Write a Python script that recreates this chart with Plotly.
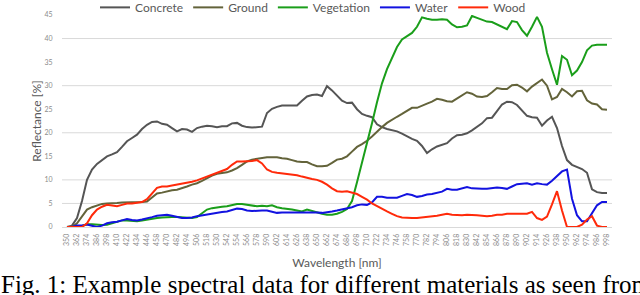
import plotly.graph_objects as go

# Wavelength samples (nm), 6 nm step
wavelength = list(range(350, 999, 6))
# Category tick labels every 12 nm
tick_nm = list(range(350, 999, 12))
tick_labels = [str(v) for v in tick_nm]
y_ticks = [0, 5, 10, 15, 20, 25, 30, 35, 40, 45]
grid_levels = [5, 10, 20, 30, 40]

concrete = [0, 0.3, 1.9, 5.5, 10.0, 12.2, 13.4, 14.3, 15.0, 15.4,
            15.9, 17.0, 18.2, 18.9, 19.6, 20.8, 21.7, 22.3, 22.4, 21.9,
            21.7, 21.0, 20.3, 20.8, 20.7, 20.2, 21.0, 21.3, 21.5, 21.4,
            21.2, 21.4, 21.4, 22.0, 22.1, 21.5, 21.2, 21.1, 21.2, 21.3,
            24.2, 25.1, 25.5, 25.8, 25.8, 25.8, 25.8, 26.8, 27.7, 28.0,
            28.1, 27.8, 29.9, 29.0, 28.0, 26.8, 26.3, 26.4, 25.0, 24.0,
            23.6, 23.3, 21.8, 21.2, 20.8, 20.5, 20.3, 19.8, 19.2, 18.7,
            18.3, 17.2, 15.7, 16.5, 17.1, 17.5, 17.8, 18.8, 19.5, 19.6,
            19.9, 20.5, 21.2, 22.0, 23.1, 23.2, 24.6, 26.0, 26.6, 26.5,
            25.9, 24.8, 23.6, 23.3, 23.2, 21.5, 22.6, 23.4, 21.0, 17.2,
            14.2, 13.2, 12.8, 12.3, 11.5, 8.0, 7.4, 7.2, 7.2]

ground = [0, 0, 0.8, 2.2, 3.7, 4.2, 4.6, 4.9, 5.0, 5.0,
          5.1, 5.2, 5.2, 5.2, 5.2, 5.3, 5.4, 6.3, 7.1, 7.3,
          7.6, 7.8, 7.9, 8.2, 8.6, 9.0, 9.3, 9.8, 10.4, 10.9,
          11.3, 11.5, 11.6, 12.0, 12.5, 13.2, 13.9, 14.3, 14.5, 14.7,
          14.8, 14.8, 14.8, 14.6, 14.5, 14.2, 13.9, 13.8, 13.8, 13.3,
          12.9, 12.9, 13.0, 13.6, 14.3, 14.5, 15.0, 16.0, 17.0, 17.6,
          18.3, 19.2, 20.3, 21.2, 22.1, 22.8, 23.4, 24.0, 24.6, 25.3,
          25.3, 25.8, 26.2, 26.6, 27.2, 27.0, 26.7, 26.6, 27.3, 27.9,
          28.6, 28.3, 27.7, 27.6, 27.8, 28.6, 29.5, 29.3, 29.3, 30.1,
          30.2, 29.6, 28.8, 29.8, 30.6, 31.3, 30.0, 27.1, 27.6, 29.3,
          28.6, 27.7, 28.8, 28.9, 26.9, 26.2, 26.0, 25.0, 24.9]

vegetation = [0, 0, 0, 0.2, 0.6, 0.6, 0.5, 0.4, 0.5, 0.8,
              1.2, 1.4, 1.4, 1.3, 1.2, 1.4, 1.6, 1.8, 1.9, 2.0,
              2.1, 2.1, 2.1, 2.0, 1.9, 1.9, 2.1, 2.9, 3.7, 4.0,
              4.2, 4.3, 4.4, 4.7, 4.9, 4.9, 4.7, 4.6, 4.4, 4.5,
              4.4, 4.6, 4.2, 4.0, 3.9, 3.7, 3.5, 3.3, 3.7, 3.4,
              3.0, 2.8, 2.6, 2.6, 2.8, 3.2, 3.8, 5.5, 9.5, 13.5,
              17.5, 22.0, 26.5, 30.5, 33.5, 36.0, 38.2, 39.8, 40.5, 41.2,
              42.5, 44.5, 44.2, 44.0, 44.0, 44.1, 44.0, 43.0, 42.4, 42.5,
              42.8, 44.8, 44.4, 44.0, 43.6, 43.5, 43.0, 42.4, 42.0, 43.7,
              43.5, 41.8, 40.6, 42.5, 44.6, 42.5, 37.0, 33.5, 30.2, 36.3,
              35.5, 32.2, 33.2, 35.0, 37.5, 38.5, 38.7, 38.7, 38.7]

water = [0, 0, 0.3, 0.3, 0.5, 0.3, 0, 0.3, 0.8, 1.0,
         1.1, 1.4, 1.7, 1.5, 1.4, 1.6, 1.8, 2.1, 2.4, 2.5,
         2.6, 2.4, 2.1, 1.9, 1.9, 2.0, 2.3, 2.5, 2.6, 2.8,
         3.1, 3.2, 3.3, 3.6, 3.9, 3.8, 3.5, 3.4, 3.5, 3.5,
         3.5, 3.3, 3.0, 3.1, 3.1, 3.1, 3.1, 3.2, 3.2, 3.1,
         3.1, 3.0, 3.1, 3.3, 3.5, 3.7, 3.9, 4.2, 4.6, 4.8,
         4.7, 5.2, 6.4, 6.4, 6.2, 6.2, 6.2, 6.6, 7.0, 6.8,
         6.4, 6.6, 6.9, 7.0, 7.2, 7.5, 8.1, 7.9, 7.9, 8.2,
         8.5, 8.2, 8.1, 8.1, 8.1, 8.3, 8.4, 8.3, 8.1, 8.6,
         9.1, 9.2, 9.3, 9.0, 9.3, 9.1, 9.0, 9.8, 10.8, 11.8,
         12.2, 6.0, 2.5, 1.2, 1.2, 2.8, 4.6, 5.3, 5.3]

wood = [0, 0, 0, 0, 0.8, 2.5, 3.7, 4.3, 4.7, 4.6,
        4.4, 4.7, 5.0, 5.0, 5.1, 5.3, 5.9, 7.2, 8.3, 8.6,
        8.6, 8.8, 9.0, 9.2, 9.3, 9.6, 9.9, 10.3, 10.8, 11.2,
        11.6, 12.0, 12.3, 13.2, 13.9, 13.9, 13.9, 14.0, 14.2, 13.5,
        12.2, 11.7, 11.5, 11.4, 11.3, 11.2, 11.0, 10.7, 10.4, 10.2,
        10.0, 9.6, 9.0, 8.2, 7.6, 7.5, 7.6, 7.3, 7.0, 6.4,
        5.8, 5.0, 4.4, 3.8, 3.3, 2.8, 2.3, 2.0, 1.9, 1.9,
        1.9, 2.0, 2.1, 2.2, 2.4, 2.6, 2.8, 2.6, 2.5, 2.5,
        2.6, 2.6, 2.5, 2.4, 2.3, 2.4, 2.6, 2.6, 2.8, 2.8,
        2.8, 2.8, 2.8, 3.2, 1.9, 1.5, 2.2, 4.8, 7.6, 3.5,
        0, 0, 0, 0.5, 1.6, 2.3, 0.3, 0, 0]

series = [
    ("Concrete", concrete, "#555555"),
    ("Ground", ground, "#63633a"),
    ("Vegetation", vegetation, "#1a9e1a"),
    ("Water", water, "#1212e0"),
    ("Wood", wood, "#ff2a0a"),
]

fig = go.Figure()
for name, vals, color in series:
    fig.add_trace(go.Scatter(x=wavelength, y=vals, mode="lines", name=name,
                             line=dict(color=color, width=2)))

for g in grid_levels:
    fig.add_shape(type="line", xref="paper", yref="y", x0=0, x1=1, y0=g, y1=g,
                  line=dict(color="#d9d9d9", width=1), layer="below")

FONT = "Lato"
fig.update_layout(
    width=640, height=295,
    margin=dict(l=62, r=28, t=15, b=68, autoexpand=False),
    paper_bgcolor="white", plot_bgcolor="white",
    font=dict(family=FONT, color="#595959"),
    showlegend=True,
    legend=dict(orientation="h", x=0.06, xanchor="left", xref="paper",
                y=0.975, yanchor="middle", yref="container",
                font=dict(size=12, color="#595959", family=FONT),
                bgcolor="rgba(0,0,0,0)", itemwidth=30, tracegroupgap=0),
    xaxis=dict(range=[344, 1004], tickmode="array", tickvals=tick_nm, ticktext=tick_labels,
               tickangle=-90, tickfont=dict(size=7, color="#8c8c8c", family=FONT),
               showgrid=False, zeroline=False, showline=True, linecolor="#d9d9d9", linewidth=1,
               ticks="outside", ticklen=3, tickcolor="rgba(0,0,0,0)",
               title=dict(text="Wavelength [nm]", font=dict(size=12, color="#595959"),
                          standoff=13)),
    yaxis=dict(range=[0, 45], tickmode="array", tickvals=y_ticks,
               tickfont=dict(size=7, color="#8c8c8c", family=FONT),
               showgrid=False, zeroline=False, showline=False,
               ticks="outside", ticklen=7, tickcolor="rgba(0,0,0,0)",
               title=dict(text="Reflectance [%]", font=dict(size=12, color="#595959"),
                          standoff=0)),
)

fig.add_annotation(text="Fig. 1: Example spectral data for different materials as seen from",
                   xref="paper", yref="paper", x=-0.114, y=-0.272, xanchor="left", yanchor="middle",
                   showarrow=False, font=dict(family="Liberation Serif", size=25, color="black"))

fig.write_html("out.html", config={"displayModeBar": False},
               post_script="document.body.style.margin='0';document.body.style.padding='0';")
